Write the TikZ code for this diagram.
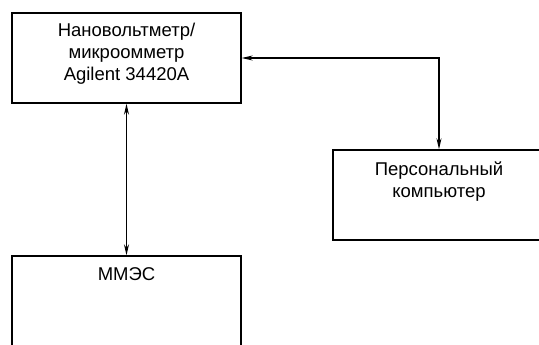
\documentclass[tikz,border=0pt]{standalone}
\usepackage{fontspec}
\setmainfont{Liberation Sans}
\usetikzlibrary{arrows.meta,positioning}

\tikzset{
  box/.style={draw, line width=1.4pt, inner sep=0pt},
  lbl/.style={align=center, inner sep=0pt, font=\fontsize{18.5}{22}\selectfont},
  link/.style={line width=1.2pt, {Stealth[length=11pt,width=5pt]}-{Stealth[length=11pt,width=5pt]}}
}

\begin{document}
\begin{tikzpicture}[x=1pt, y=-1pt]
  \useasboundingbox (0,0) rectangle (539,345);
  \clip (0,0) rectangle (539,345);
  % blocks
  \node[box, minimum width=229pt, minimum height=90pt] (nvm) at (126.5,58) {};
  \node[box, minimum width=212pt, minimum height=90pt] (pc) at (439,195) {};
  \node[box, minimum width=229pt, minimum height=110pt] (mmes) at (126.5,311) {};
  % texts
  \node[lbl, anchor=north] (nvmtext) at (nvm.north) [yshift=-11pt] {Нановольтметр/\\микроомметр\\Agilent 34420A};
  \node[lbl, anchor=north] (pctext) at (pc.north) [yshift=-12pt] {Персональный\\компьютер};
  \node[lbl, anchor=north] (mmestext) at (mmes.north) [yshift=-12pt] {ММЭС};
  % links
  \draw[link] (nvm.south) -- (mmes.north);
  \draw[link] (nvm.east) -- (pc.north |- nvm.east) -- (pc.north);
\end{tikzpicture}
\end{document}
